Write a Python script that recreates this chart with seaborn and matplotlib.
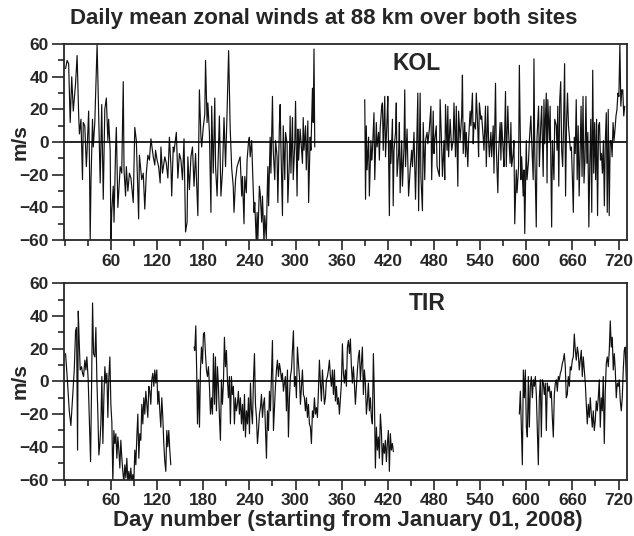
import numpy as np
import pandas as pd
import matplotlib
matplotlib.use('Agg')
import matplotlib.pyplot as plt
from matplotlib.ticker import MultipleLocator
import seaborn as sns

# ---- KOL: day number / daily mean zonal wind (m/s) ----
kol_a_day = [1, 3, 5, 7, 9, 11, 14, 16, 18, 19, 21,
             23, 24, 26, 28, 29, 31, 32, 33, 34, 36,
             37, 39, 42, 44, 46, 48, 50, 52, 54, 56,
             57, 59, 60, 61, 63, 64, 66, 67, 69, 72,
             74, 76, 77, 79, 80, 82, 84, 86, 89, 91,
             93, 94, 96, 97, 100, 102, 104, 106, 108, 110,
             112, 115, 117, 118, 120, 122, 124, 125, 127, 130,
             132, 134, 136, 138, 139, 141, 142, 145, 147, 149,
             151, 153, 155, 157, 159, 160, 162, 164, 166, 168,
             170, 173, 175, 177, 178, 180, 182, 183, 185, 186,
             188, 190, 191, 193, 195, 196, 198, 201, 203, 205,
             207, 209, 211, 213, 215, 217, 219, 220, 222, 224,
             228, 230, 231, 233, 234, 236, 237, 239, 240, 241,
             243, 244, 246, 247, 249, 250, 251, 253, 254, 256,
             257, 259, 260, 262, 263, 264, 265, 267, 268, 270,
             271, 273, 274, 276, 277, 279, 280, 281, 283, 284,
             286, 287, 289, 290, 292, 293, 294, 296, 297, 299,
             300, 302, 303, 304, 306, 307, 309, 310, 311, 313,
             314, 316, 317, 319, 320, 322, 323, 324, 325]
kol_a_wind = [45, 50, 48, 12, 40, 19, 36, 53, 17, 5, 14,
              -23, 12, 10, -15, -5, 19, -9, -60, -25, 14,
              -3, 12, 60, 18, -25, 23, -35, 20, 27, 1,
              14, -5, -62, -43, -27, -49, -5, 9, -40, -15,
              -19, 37, -17, -33, -15, -30, -19, -22, -37, 9,
              1, -15, -47, -8, -23, -19, -41, -19, -8, -11,
              2, -9, -14, -5, -11, -15, -25, -3, -19, -9,
              -13, -22, 3, -15, -33, -3, -6, 6, -22, -7,
              -11, -23, 2, -55, -49, -9, -29, -9, -3, -27,
              -7, -45, 32, 3, -3, 9, 17, 50, 12, 24,
              6, -43, 22, -19, 27, -15, -33, 16, -33, -18,
              15, -15, 19, 56, 9, -16, -27, -43, -23, -15,
              -9, -33, -21, -50, -21, -31, -11, 1, 3, -9,
              1, -15, -43, -37, -62, -43, -60, -27, -31, -49,
              -33, -62, -45, -59, -35, -15, -39, 3, -19, 28,
              -5, -23, 1, -9, -37, 10, 23, -3, -45, 10,
              -23, 6, -1, -37, -11, 16, -19, 15, -23, -1,
              25, -33, 8, -11, 8, 1, -13, 15, -5, 10,
              -17, 13, -37, 3, -5, 33, 12, 57, -3]

kol_b_day = [390, 391, 392, 393, 395, 396, 398, 399, 400, 402,
             403, 405, 406, 408, 409, 410, 412, 413, 414, 416,
             417, 419, 420, 422, 423, 424, 426, 427, 428, 430,
             431, 432, 434, 435, 436, 438, 439, 441, 442, 443, 445,
             447, 449, 451, 452, 454, 456, 459, 460, 462, 463,
             465, 466, 468, 469, 471, 472, 474, 476, 477, 479,
             480, 481, 483, 484, 487, 488, 490, 491, 493, 494,
             495, 497, 498, 499, 501, 503, 505, 506, 508, 509,
             511, 512, 514, 516, 517, 518, 520, 521, 522, 524,
             525, 527, 528, 530, 531, 532, 534, 535, 537, 538,
             539, 541, 542, 544, 545, 547, 548, 550, 551, 552,
             554, 555, 557, 558, 560, 561, 563, 564, 566, 567,
             568, 570, 571, 573, 574, 576, 577, 579, 580, 581,
             583, 584, 585, 587, 588, 590, 591, 593, 594, 596,
             597, 598, 600, 601, 603, 604, 606, 607, 609, 610,
             611, 613, 614, 616, 617, 619, 620, 622, 623, 624,
             626, 627, 628, 630, 631, 633, 634, 636, 637, 639, 640]
kol_b_wind = [26, -35, 10, -17, 3, -33, 1, -11, -5, 18,
              -23, 12, -3, 6, -11, 8, 22, 24, -5, 28,
              -9, 14, 28, -45, 1, -13, 14, -39, -5, 6,
              24, -21, -7, 12, -31, 1, -27, -3, 32, -15, 8,
              -33, -17, -5, -15, 6, -35, 30, -42, 30, -21,
              -42, 12, -23, 1, 6, -1, 8, 22, -23, 19,
              -7, 1, 10, -15, -21, 26, -3, -21, 1, -23,
              23, -5, 22, -9, 14, -5, 1, 24, -9, 22,
              -27, 19, 1, 16, 41, -7, 12, -9, 6, -15,
              1, 19, 10, 30, -1, 12, 8, 30, 8, -9,
              24, 14, 16, 3, -5, 22, -15, 22, 1, -9,
              6, -9, 10, -19, 36, -3, -31, -7, 12, -11,
              12, -5, -15, 31, -15, 22, 6, -13, 12, -15,
              -7, 1, -50, -17, -31, -15, 47, -23, -9, -33,
              -17, -56, 1, -23, -11, 1, 16, 1, -23, 51,
              -5, -52, 3, 22, -15, 12, 22, -21, 26, -1,
              30, -25, 26, 1, 22, -52, 1, -23, 14, 10, -5]

# days 641 .. 728, read about every 1.3 days
kol_c_wind = [22, -27, 26, 37, -5, -15, 12, 48, -33, 12,
              30, 10, 3, -5, -3, -21, -43, 3, -7, 26,
              -23, 10, -33, -7, 22, -21, 28, -25, -11, 28,
              -13, 6, -52, -13, 14, -43, 44, -19, 12, -23,
              14, -45, 10, 12, -11, -7, -19, 1, -39, 1,
              18, -43, 20, -45, 1, 1, -9, 12, 1, 8,
              16, 20, 30, 28, 60, 22, 32, 32, 16, 22]

# ---- TIR ----
tir_a_day = [1, 3.6, 5.8, 7.9, 10.1, 12.3, 14, 15.3, 16.6, 17.5, 18.7, 20,
             21.8, 23.1, 24.4, 26.1, 27.4, 28.7, 30.4, 31.7, 33.5, 34.8, 36.1, 37.4]
tir_a_wind = [17, -1, -18, -27, -10, 7, 31, 33, -42, 43, 25, 7,
              9, 5, 3, 13, 7, 15, 1, -20, -49, -3, 48, 17]
# days 39 .. 138
tir_a2_wind = [15, 33, 1, -20, -45, -38, -26, 3, -38, -10,
               9, -1, 5, -22, 3, 15, -14, -25, -62, -30,
               -38, -32, -47, -34, -42, -53, -36, -47, -55, -62,
               -51, -59, -47, -62, -55, -62, -53, -62, -57, -62,
               -42, -51, -34, -20, -47, -32, -36, -14, -26, -10,
               -20, -6, -14, -22, -3, -6, -14, 1, 5, -3,
               7, -1, 7, -14, -6, -18, -28, -10, -22, -38,
               -49, -55, -30, -40, -30, -42, -51]

tir_b_day = [168.1, 169, 170.3, 171.6, 172.5]
tir_b_wind = [21, 19, 34, 3, -26]
# days 174 .. 228
tir_b2_wind = [1, -28, 7, 21, 11, 29, 30, 17, 7, 3,
               9, -3, -20, -10, -20, 17, -14, 15, -18, 9,
               -3, -22, -36, 1, -14, -1, 27, 9, 19, 1,
               -10, 3, -26, 3, -8, -3, -26, -10, -18, -14,
               -6, -20, -10]
# days 230 .. 427
tir_b3_wind = [-26, -14, -30, -8, -34, -18, -26, -10, -32, -1,
               -18, -26, 1, 17, -14, -22, -38, -30, -20, -16,
               -8, -22, -14, -10, -28, -47, -18, -30, -6, -18,
               3, 25, -30, -16, -3, 7, 13, 3, 11, 7,
               1, 5, -6, -1, 3, -18, 7, -34, -10, 3,
               7, 19, 31, -3, 3, -10, 21, 11, 3, -14,
               -3, 7, -8, -10, -18, -10, -22, -14, -26, -28,
               -38, -18, -22, -10, -20, -16, -22, -6, 13, -1,
               -12, 7, -3, -14, -10, 1, 3, 7, 13, 3,
               -3, 7, -8, 7, -12, -3, -14, -10, -20, -10,
               -1, 23, 5, -1, 7, -3, 21, 25, 17, 26,
               9, -1, 9, -1, -14, -3, 7, 15, 19, 1,
               11, 21, -8, 7, -1, -20, -12, -1, -18, -10,
               -22, -26, 17, -10, -53, -28, -42, -34, -47, -20,
               -30, -51, -38, -44, -36, -49, -38, -30, -55, -32,
               -42, -38, -43]
# days 591 .. 730
tir_c_wind = [-20, -6, -28, -51, 7, -10, 7, -28, -34, 3, -28,
              -3, 3, -10, 1, -3, 3, -8, -30, -51, -10,
              1, -34, 1, -1, -8, -1, -30, -1, -6, -3,
              -10, -6, -22, -34, -8, -1, 1, -6, 3, 1,
              5, 7, 11, 13, 17, 9, -10, -8, 3, -3,
              9, 7, 13, 15, 29, 19, 13, 21, 17, 7,
              13, 19, 3, 15, 7, -1, -14, -26, -14, -22,
              -10, -20, -28, -18, -30, -24, -12, -18, -10, 1,
              -28, -10, -18, 3, -38, -6, 11, 15, 9, 19,
              37, 21, 27, 7, 17, 7, -10, -1, -3, 1,
              -12, -18, -10, 7, 19, 21, 1]


def segment(days, wind, seg):
    return pd.DataFrame({'day': np.asarray(days, dtype=float),
                         'wind': wind, 'seg': seg})


kol = pd.concat([
    segment(kol_a_day, kol_a_wind, 'a'),
    segment(kol_b_day, kol_b_wind, 'b'),
    segment(np.linspace(641, 728, len(kol_c_wind)), kol_c_wind, 'b'),
])
tir = pd.concat([
    segment(tir_a_day, tir_a_wind, 'a'),
    segment(np.linspace(39.1, 137.8, len(tir_a2_wind)), tir_a2_wind, 'a'),
    segment(tir_b_day, tir_b_wind, 'b'),
    segment(np.linspace(173.8, 228.3, len(tir_b2_wind)), tir_b2_wind, 'b'),
    segment(np.linspace(229.7, 427.2, len(tir_b3_wind)), tir_b3_wind, 'b'),
    segment(np.linspace(591, 730, len(tir_c_wind)), tir_c_wind, 'c'),
])

sns.set_style('ticks')
plt.rcParams['font.family'] = ['Liberation Sans', 'DejaVu Sans']
plt.rcParams['font.weight'] = 'bold'

fig = plt.figure(figsize=(6.34, 5.36), dpi=100)
ax1 = fig.add_axes([0.101, 0.552, 0.888, 0.3657])
ax2 = fig.add_axes([0.101, 0.1054, 0.888, 0.366])

for ax, df, site, xpos, ypos in [(ax1, kol, 'KOL', 0.626, 0.90),
                                 (ax2, tir, 'TIR', 0.645, 0.897)]:
    sns.lineplot(data=df, x='day', y='wind', units='seg', estimator=None,
                 sort=False, color='#111111', lw=0.85, ax=ax)
    ax.axhline(0, color='black', lw=1.2)
    ax.set_xlim(-1, 731)
    ax.set_ylim(-60, 60)
    ax.xaxis.set_major_locator(MultipleLocator(60))
    ax.xaxis.set_minor_locator(MultipleLocator(30))
    ax.yaxis.set_major_locator(MultipleLocator(20))
    ax.yaxis.set_minor_locator(MultipleLocator(10))
    ax.set_xticks(range(60, 721, 60))
    ax.tick_params(which='both', direction='out', width=1.2)
    ax.tick_params(axis='x', which='major', length=7, labelsize=12.5, pad=3)
    ax.tick_params(axis='y', which='major', length=9, labelsize=12.5, pad=2)
    ax.tick_params(which='minor', length=4)
    for lab in ax.get_xticklabels() + ax.get_yticklabels():
        lab.set_fontweight('bold')
    for sp in ax.spines.values():
        sp.set_linewidth(1.3)
        sp.set_visible(True)
    ax.set_xlabel('')
    ax.set_ylabel('m/s', fontsize=15, fontweight='bold')
    ax.yaxis.set_label_coords(-0.062, 0.5)
    ax.text(xpos, ypos, site, transform=ax.transAxes, ha='center', va='center',
            fontsize=16.5, fontweight='bold')

fig.text(0.511, 0.966, 'Daily mean zonal winds at 88 km over both sites',
         ha='center', va='center', fontsize=16, fontweight='bold')
fig.text(0.548, 0.028, 'Day number (starting from January 01, 2008)',
         ha='center', va='center', fontsize=16, fontweight='bold')

fig.savefig('out.png', dpi=100)
